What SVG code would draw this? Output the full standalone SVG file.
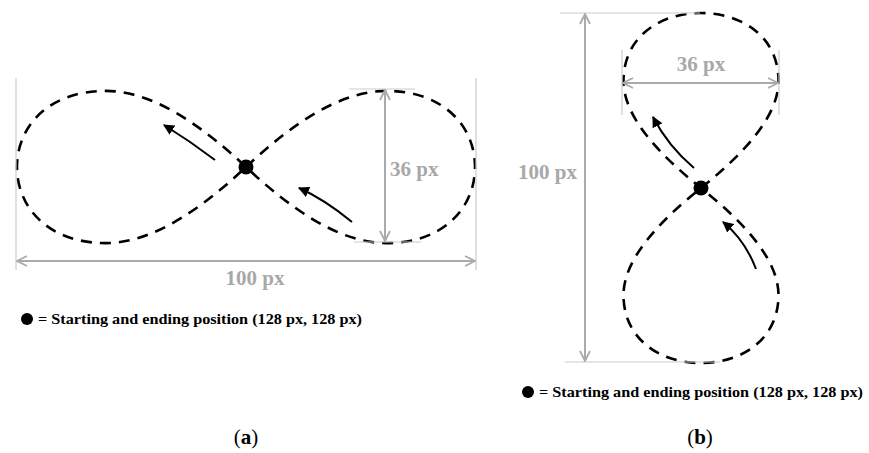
<svg xmlns="http://www.w3.org/2000/svg" width="869" height="453" viewBox="0 0 869 453">
<style>
.curve{fill:none;stroke:#000;stroke-width:2.6;stroke-dasharray:11 8}
.dim{fill:none;stroke:#aaaaaa;stroke-width:2}
.ext{fill:none;stroke:#cccccc;stroke-width:1.2}
.arr{fill:none;stroke:#000;stroke-width:2}
.dlab{font-family:"Liberation Serif",serif;font-weight:bold;font-size:21px;fill:#a8a8a8}
.leg{font-family:"Liberation Serif",serif;font-weight:bold;font-size:14px;fill:#000}
.cap{font-family:"Liberation Serif",serif;font-size:21px;fill:#000}
</style>
<defs>
<marker id="chev" viewBox="0 0 12 12" refX="11" refY="6" markerWidth="12" markerHeight="12" markerUnits="userSpaceOnUse" orient="auto-start-reverse">
<path d="M1,1 L11,6 L1,11" fill="none" stroke="#aaaaaa" stroke-width="1.8"/>
</marker>
<marker id="tri" viewBox="0 0 10 10" refX="9" refY="5" markerWidth="11" markerHeight="11" markerUnits="userSpaceOnUse" orient="auto">
<path d="M0,0 L10,5 L0,10 Z" fill="#000"/>
</marker>
</defs>

<g id="panel-a">
<g id="curve-a">
<path class="curve" d="M246,167 C291.8,124 340.3,90.9 386.1,90.9 C443.4,90.9 475,126.1 475,167 C475,207.9 443.4,243.1 386.1,243.1 C340.3,243.1 291.8,210 246,167 C200.2,124 151.7,90.9 105.9,90.9 C48.6,90.9 17,126.1 17,167 C17,207.9 48.6,243.1 105.9,243.1 C151.7,243.1 200.2,210 246,167 Z"/>
</g>
<g id="start-a"><circle cx="246" cy="167" r="7.5" fill="#000"/></g>
<g id="dim-a">
<line class="ext" x1="16" y1="78" x2="16" y2="270"/>
<line class="ext" x1="476" y1="78" x2="476" y2="270"/>
<line class="ext" x1="349" y1="89" x2="415" y2="89"/>
<line class="ext" x1="354" y1="242" x2="421" y2="242"/>
<line class="dim" x1="17" y1="261" x2="475" y2="261" marker-start="url(#chev)" marker-end="url(#chev)"/>
<line class="dim" x1="385" y1="90" x2="385" y2="241" marker-start="url(#chev)" marker-end="url(#chev)"/>
<text class="dlab" x="255" y="285" text-anchor="middle">100 px</text>
<text class="dlab" x="390" y="176">36 px</text>
</g>
<g id="legend-a">
<circle cx="27" cy="319" r="6" fill="#000"/>
<text class="leg" x="38" y="324" textLength="324" lengthAdjust="spacingAndGlyphs">= Starting and ending position (128 px, 128 px)</text>
</g>
<text class="cap" x="246" y="444" text-anchor="middle">(<tspan font-weight="bold">a</tspan>)</text>
</g>

<g id="panel-b">
<g id="curve-b">
<path class="curve" d="M701,188 C744.8,153 778.5,115.9 778.5,80.9 C778.5,37.2 742.6,13 701,13 C659.4,13 623.5,37.2 623.5,80.9 C623.5,115.9 657.2,153 701,188 C744.8,223 778.5,260.1 778.5,295.1 C778.5,338.8 742.6,363 701,363 C659.4,363 623.5,338.8 623.5,295.1 C623.5,260.1 657.2,223 701,188 Z"/>
</g>
<g id="start-b"><circle cx="701" cy="188" r="7.5" fill="#000"/></g>
<g id="dim-b">
<line class="ext" x1="560" y1="13" x2="700" y2="13"/>
<line class="ext" x1="565" y1="362" x2="720" y2="362"/>
<line class="ext" x1="622" y1="50" x2="622" y2="115"/>
<line class="ext" x1="779" y1="50" x2="779" y2="115"/>
<line class="dim" x1="585" y1="14" x2="585" y2="361" marker-start="url(#chev)" marker-end="url(#chev)"/>
<line class="dim" x1="623" y1="83" x2="778" y2="83" marker-start="url(#chev)" marker-end="url(#chev)"/>
<text class="dlab" x="577" y="179" text-anchor="end">100 px</text>
<text class="dlab" x="701" y="71" text-anchor="middle">36 px</text>
</g>
<g id="legend-b">
<circle cx="528" cy="392" r="6" fill="#000"/>
<text class="leg" x="539" y="397" textLength="324" lengthAdjust="spacingAndGlyphs">= Starting and ending position (128 px, 128 px)</text>
</g>
<text class="cap" x="700" y="444" text-anchor="middle">(<tspan font-weight="bold">b</tspan>)</text>
</g>

<g id="connectors">
<path class="arr" d="M215,160 Q190,141 164,125" marker-end="url(#tri)"/>
<path class="arr" d="M352,222 Q324,199 299,188" marker-end="url(#tri)"/>
<path class="arr" d="M694,168 Q668,146 653,117" marker-end="url(#tri)"/>
<path class="arr" d="M756,269 Q745,240 723,222" marker-end="url(#tri)"/>
</g>
</svg>
